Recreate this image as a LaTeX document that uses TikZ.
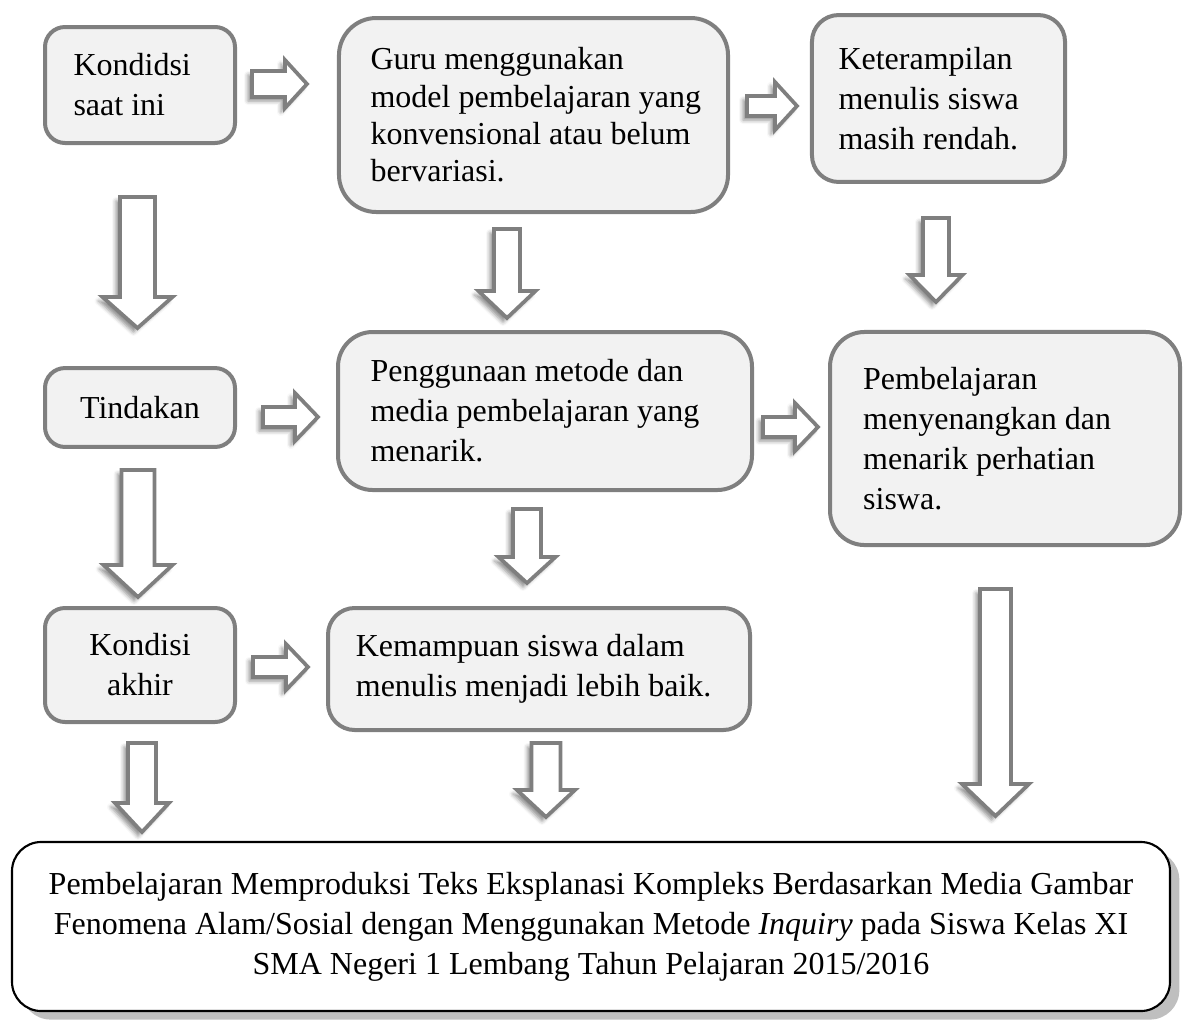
\documentclass[tikz,border=0pt]{standalone}
\usepackage{fontspec}
\setmainfont{Liberation Serif}
\usetikzlibrary{shadows,shadows.blur}
\definecolor{boxline}{HTML}{7F7F7F}
\definecolor{boxfill}{HTML}{F2F2F2}
% x, top, tip, shaft half, head half, head length
\newcommand\blockdown[6]{\draw[blockarr] (#1-#4,#2) -- (#1+#4,#2) -- (#1+#4,#3-#6) -- (#1+#5,#3-#6) -- (#1,#3) -- (#1-#5,#3-#6) -- (#1-#4,#3-#6) -- cycle;}
% x start, y, tip, shaft half, head half, head length
\newcommand\blockright[6]{\draw[blockarr] (#1,#2-#4) -- (#3-#6,#2-#4) -- (#3-#6,#2-#5) -- (#3,#2) -- (#3-#6,#2+#5) -- (#3-#6,#2+#4) -- (#1,#2+#4) -- cycle;}
\begin{document}
\begin{tikzpicture}[
x=0.375pt,y=-0.375pt,
every node/.style={font=\fontsize{12}{15}\selectfont,inner sep=0pt},
box/.style={draw=boxline,fill=boxfill,line width=1.5pt,rounded corners=#1},
box/.default=8pt,
txt/.style={anchor=west,align=left},
endbox/.style={draw=black,fill=white,line width=0.8pt,rounded corners=11pt,align=center,
  drop shadow={shadow xshift=3.5pt,shadow yshift=-3.2pt,fill=black!25,opacity=1}},
blockarr/.style={draw=boxline,fill=white,line width=1.4pt,line join=miter,
  blur shadow={shadow xshift=-1.5pt,shadow yshift=-1.5pt,shadow blur radius=1.5pt,shadow opacity=45}}
]
\useasboundingbox (0,0) rectangle (1183,1019);
\node[box=7.5pt,minimum width=71.25pt,minimum height=43.5pt] (kini) at (140,85) {};
\node[txt] (kini-t) at ([xshift=11.25pt]kini.west) {Kondidsi\\saat ini};
\node[box=14pt,minimum width=145.9pt,minimum height=72.75pt] (guru) at (533.5,115) {};
\node[txt,font=\fontsize{12}{14}\selectfont] (guru-t) at ([xshift=12.4pt]guru.west) {Guru menggunakan\\model pembelajaran yang\\konvensional atau belum\\bervariasi.};
\node[box=10pt,minimum width=94.9pt,minimum height=62.6pt] (terampil) at (938.5,98.5) {};
\node[txt] (terampil-t) at ([xshift=10.5pt]terampil.west) {Keterampilan\\menulis siswa\\masih rendah.};
\node[box=7.5pt,minimum width=71.25pt,minimum height=29.6pt] (tindakan) at (140,407.5) {Tindakan};
\node[box=13pt,minimum width=155.25pt,minimum height=59.25pt] (metode) at (545,411) {};
\node[txt] (metode-t) at ([xshift=12.75pt]metode.west) {Penggunaan metode dan\\media pembelajaran yang\\menarik.};
\node[box=13pt,minimum width=131.25pt,minimum height=79.9pt] (senang) at (1005,438.5) {};
\node[txt] (senang-t) at ([xshift=13pt]senang.west) {Pembelajaran\\menyenangkan dan\\menarik perhatian\\siswa.};
\node[box=7.5pt,minimum width=71.25pt,minimum height=42.75pt,align=center] (akhir) at (140,665) {Kondisi\\akhir};
\node[box=10pt,minimum width=158.25pt,minimum height=45.75pt] (mampu) at (539,669) {};
\node[txt] (mampu-t) at ([xshift=11pt]mampu.west) {Kemampuan siswa dalam\\menulis menjadi lebih baik.};
\node[endbox,minimum width=434.25pt,minimum height=63.4pt] (judul) at (591,926.5) {Pembelajaran Memproduksi Teks Eksplanasi Kompleks Berdasarkan Media Gambar\\Fenomena Alam/Sosial dengan Menggunakan Metode \textit{Inquiry} pada Siswa Kelas XI\\SMA Negeri 1 Lembang Tahun Pelajaran 2015/2016};
\blockright{252}{84}{307}{13}{24}{22}
\blockright{747}{106}{797}{10}{24}{22}
\blockright{263}{417}{318}{10}{24}{23}
\blockright{763}{427}{818}{10}{24}{23}
\blockright{253}{667}{308}{10}{23}{22}
\blockdown{137.5}{197}{328}{17.5}{35}{31}
\blockdown{507}{229}{318}{13}{28.5}{27}
\blockdown{936}{218}{302}{13}{26.5}{27}
\blockdown{138}{470}{597}{16.5}{34.5}{32}
\blockdown{527}{509}{583}{14}{28.5}{26}
\blockdown{142}{743}{832}{14}{27}{29}
\blockdown{546}{743}{817}{14.5}{29}{27}
\blockdown{995.5}{589}{816}{15.5}{33.5}{32}
\end{tikzpicture}
\end{document}
